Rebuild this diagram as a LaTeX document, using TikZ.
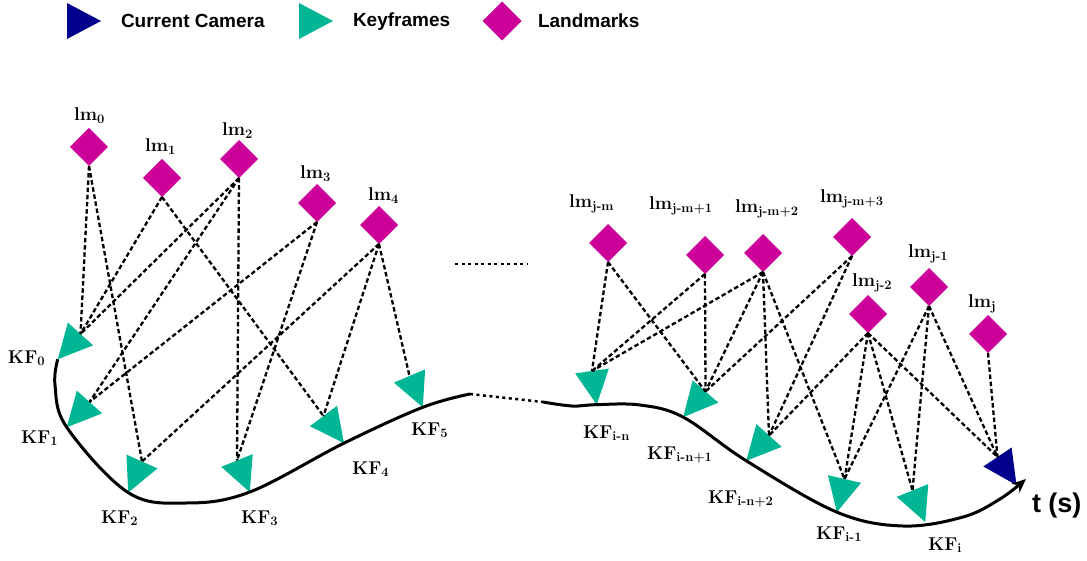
\documentclass[tikz,border=0pt]{standalone}
\usepackage{fontspec}
\newfontfamily\legendfont{Liberation Sans}
\usetikzlibrary{shapes.geometric,arrows.meta}
\definecolor{lmcolor}{RGB}{204,0,153}
\definecolor{kfcolor}{RGB}{0,182,148}
\definecolor{camcolor}{RGB}{0,0,140}

\begin{document}
\begin{tikzpicture}[x=1pt, y=1pt,
    every node/.style={font=\fontsize{18.5}{20}\selectfont\bfseries, inner sep=0pt, outer sep=0pt},
    lm/.style={diamond, fill=lmcolor, minimum width=38pt, minimum height=38pt},
    kf/.style={isosceles triangle, isosceles triangle stretches, fill=kfcolor,
               minimum width=34pt, minimum height=34pt, anchor=lower side},
    cam/.style={kf, fill=camcolor},
    lab/.style={anchor=base west},
    legtext/.style={anchor=base west, font=\legendfont\fontsize{19}{22}\selectfont\bfseries},
    obs/.style={line width=2.3pt, dash pattern=on 4.5pt off 2.7pt},
    traj/.style={line width=3pt},
    dots/.style={line width=2.5pt, dash pattern=on 3pt off 3.5pt}]
    \useasboundingbox (0,0) rectangle (1087,-561);

    % легенда
    \node[cam, minimum width=36pt] (legcam) at (67,-21) {};
    \node[legtext] (legcamtext) at (121,-28) {Current Camera};
    \node[kf, minimum width=36pt] (legkf) at (299,-21) {};
    \node[legtext] (legkftext) at (353,-27) {Keyframes};
    \node[lm, minimum width=39pt, minimum height=39pt] (leglm) at (502,-21) {};
    \node[legtext] (leglmtext) at (538,-28) {Landmarks};

    % ориентиры
    \node[lm] (lm0) at (89,-147) {};
    \node[lm] (lm1) at (162,-178) {};
    \node[lm] (lm2) at (239,-159) {};
    \node[lm] (lm3) at (317,-203) {};
    \node[lm] (lm4) at (379,-225) {};
    \node[lm] (lmjm) at (608,-243) {};
    \node[lm] (lmjm1) at (705,-255) {};
    \node[lm] (lmjm2) at (763,-253) {};
    \node[lm] (lmjm3) at (852,-237) {};
    \node[lm] (lmj2) at (868,-314) {};
    \node[lm] (lmj1) at (929,-287) {};
    \node[lm] (lmj) at (988,-334) {};

    \node[lab] (lm0lab) at (74,-121) {lm\textsubscript{0}};
    \node[lab] (lm1lab) at (145,-152) {lm\textsubscript{1}};
    \node[lab] (lm2lab) at (222,-136) {lm\textsubscript{2}};
    \node[lab] (lm3lab) at (300,-179) {lm\textsubscript{3}};
    \node[lab] (lm4lab) at (368,-201) {lm\textsubscript{4}};
    \node[lab] (lmjmlab) at (569,-208) {lm\textsubscript{j-m}};
    \node[lab] (lmjm1lab) at (649,-210) {lm\textsubscript{j-m+1}};
    \node[lab] (lmjm2lab) at (735,-213) {lm\textsubscript{j-m+2}};
    \node[lab] (lmjm3lab) at (820,-203) {lm\textsubscript{j-m+3}};
    \node[lab] (lmj2lab) at (852,-287) {lm\textsubscript{j-2}};
    \node[lab] (lmj1lab) at (908,-258) {lm\textsubscript{j-1}};
    \node[lab] (lmjlab) at (968,-308) {lm\textsubscript{j}};

    % ключевые кадры
    \node[kf, rotate=228] (kf0) at (80.5,-334) {};
    \node[kf, rotate=228] (kf1) at (89.5,-402) {};
    \node[kf, rotate=246] (kf2) at (142,-461.5) {};
    \node[kf, rotate=292] (kf3) at (237,-460.5) {};
    \node[kf, rotate=307] (kf4) at (323.5,-416) {};
    \node[kf, rotate=293] (kf5) at (409.5,-376) {};
    \node[kf, rotate=278] (kfin) at (592,-371) {};
    \node[kf, rotate=229] (kfin1) at (705.5,-391.5) {};
    \node[kf, rotate=228] (kfin2) at (769,-435.5) {};
    \node[kf, rotate=257] (kfi1) at (844.5,-479) {};
    \node[kf, rotate=292] (kfi) at (912.5,-490.5) {};
    \node[cam, rotate=304] (cam) at (997.5,-457) {};

    \node[lab] (kf0lab) at (8,-363) {KF\textsubscript{0}};
    \node[lab] (kf1lab) at (21,-443) {KF\textsubscript{1}};
    \node[lab] (kf2lab) at (101,-523) {KF\textsubscript{2}};
    \node[lab] (kf3lab) at (241,-523) {KF\textsubscript{3}};
    \node[lab] (kf4lab) at (352,-474) {KF\textsubscript{4}};
    \node[lab] (kf5lab) at (411,-435) {KF\textsubscript{5}};
    \node[lab] (kfinlab) at (583,-438) {KF\textsubscript{i-n}};
    \node[lab] (kfin1lab) at (647,-459) {KF\textsubscript{i-n+1}};
    \node[lab] (kfin2lab) at (708,-503) {KF\textsubscript{i-n+2}};
    \node[lab] (kfi1lab) at (816,-539) {KF\textsubscript{i-1}};
    \node[lab] (kfilab) at (928,-550) {KF\textsubscript{i}};

    % траектория
    \coordinate (lend) at (470,-394);
    \coordinate (rstart) at (543,-402);
    \coordinate (tend) at (1026,-479);
    \coordinate (dotl) at (455,-264);
    \coordinate (dotr) at (527,-264);
    \draw[traj] plot[smooth, tension=0.6] coordinates {(kf0.apex) (55,-385) (kf1.apex) (kf2.apex)
        (186,-503) (kf3.apex) (kf4.apex) (kf5.apex) (lend)};
    \draw[traj, -{Stealth[length=14pt, width=12pt]}] plot[smooth, tension=0.6] coordinates {(rstart)
        (572,-406) (kfin.apex) (640,-405) (kfin1.apex) (kfin2.apex) (kfi1.apex) (903,-526)
        (963,-517) (1000,-499) (tend)};
    \draw[dots] (lend) -- (rstart);
    \draw[dots] (dotl) -- (dotr);
    \node[anchor=base west, font=\legendfont\fontsize{27}{30}\selectfont\bfseries] (time) at (1032,-512) {t (s)};

    % наблюдения
    \draw[obs] (lm0.south) -- (kf0.lower side);
    \draw[obs] (lm0.south) -- (kf2.lower side);
    \draw[obs] (lm1.south) -- (kf0.lower side);
    \draw[obs] (lm1.south) -- (kf4.lower side);
    \draw[obs] (lm2.south) -- (kf0.lower side);
    \draw[obs] (lm2.south) -- (kf1.lower side);
    \draw[obs] (lm2.south) -- (kf3.lower side);
    \draw[obs] (lm3.south) -- (kf1.lower side);
    \draw[obs] (lm3.south) -- (kf3.lower side);
    \draw[obs] (lm4.south) -- (kf2.lower side);
    \draw[obs] (lm4.south) -- (kf4.lower side);
    \draw[obs] (lm4.south) -- (kf5.lower side);

    \draw[obs] (lmjm.south) -- (kfin.lower side);
    \draw[obs] (lmjm.south) -- (kfin1.lower side);
    \draw[obs] (lmjm1.south) -- (kfin.lower side);
    \draw[obs] (lmjm1.south) -- (kfin1.lower side);
    \draw[obs] (lmjm2.south) -- (kfin.lower side);
    \draw[obs] (lmjm2.south) -- (kfin1.lower side);
    \draw[obs] (lmjm2.south) -- (kfin2.lower side);
    \draw[obs] (lmjm2.south) -- (kfi1.lower side);
    \draw[obs] (lmjm3.south) -- (kfin1.lower side);
    \draw[obs] (lmjm3.south) -- (kfin2.lower side);
    \draw[obs] (lmj2.south) -- (kfin2.lower side);
    \draw[obs] (lmj2.south) -- (kfi1.lower side);
    \draw[obs] (lmj2.south) -- (kfi.lower side);
    \draw[obs] (lmj2.south) -- (cam.lower side);
    \draw[obs] (lmj1.south) -- (kfi1.lower side);
    \draw[obs] (lmj1.south) -- (kfi.lower side);
    \draw[obs] (lmj1.south) -- (cam.lower side);
    \draw[obs] (lmj.south) -- (cam.lower side);
  \end{tikzpicture}
\end{document}
